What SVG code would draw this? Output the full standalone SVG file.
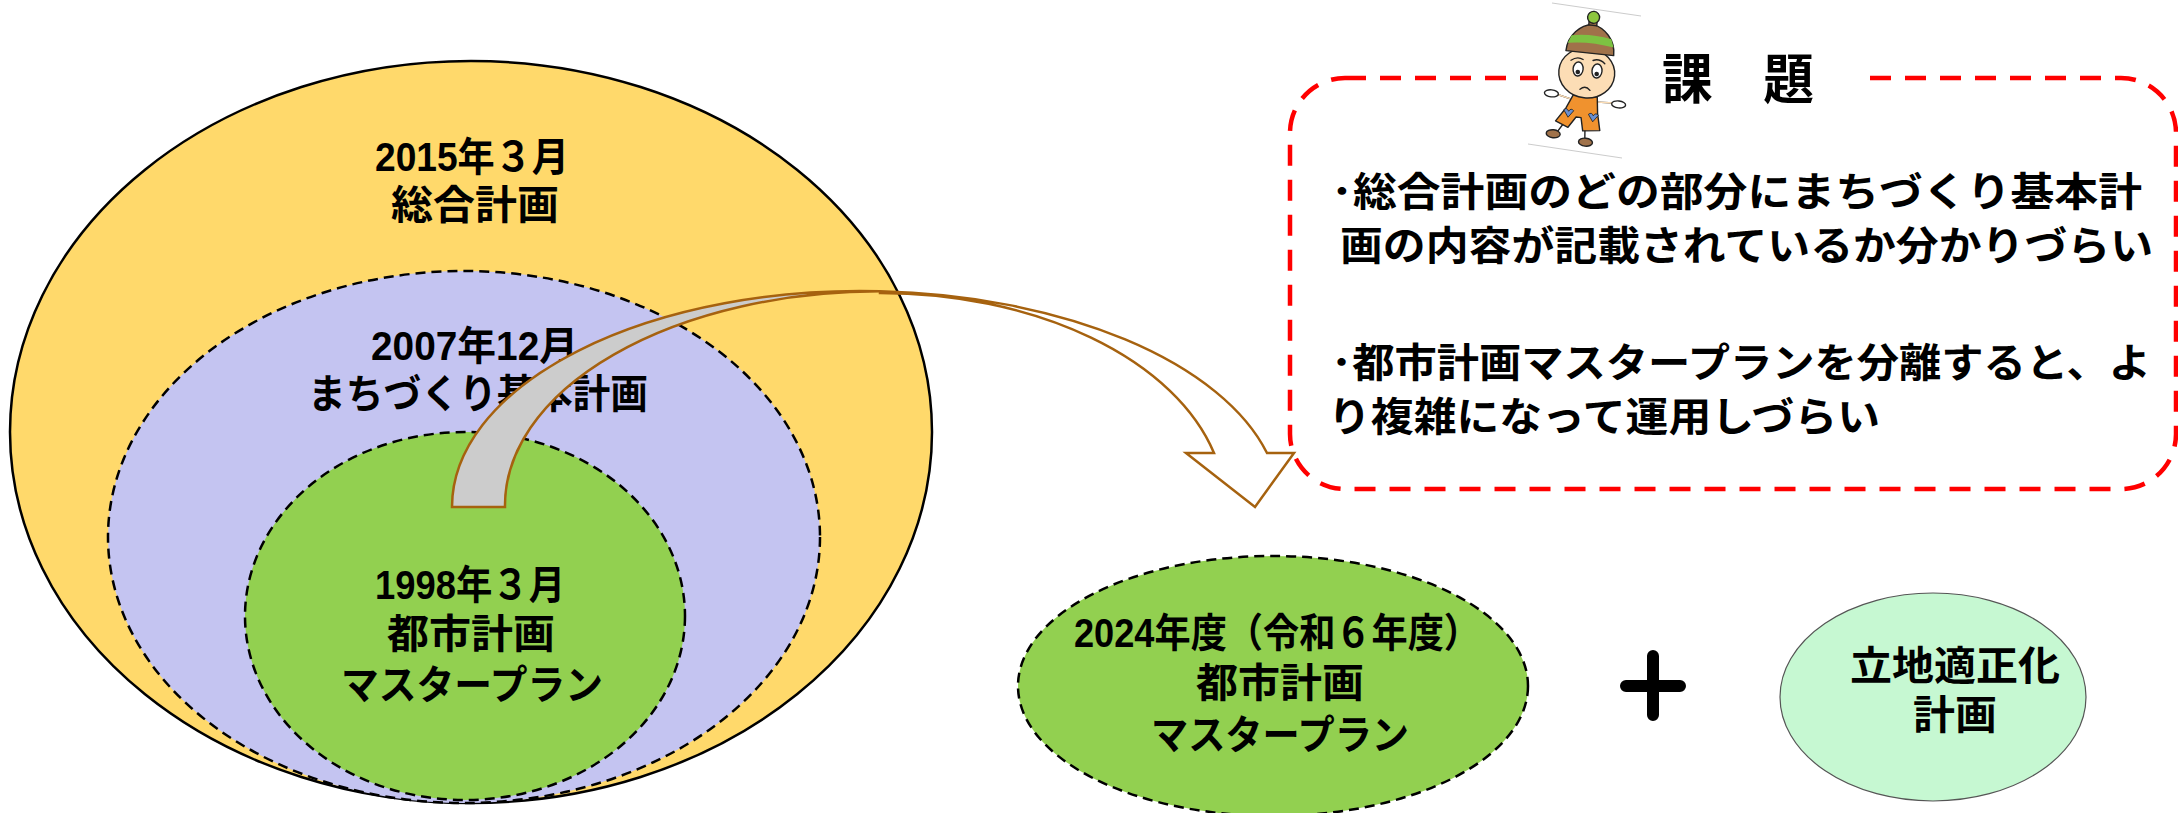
<svg xmlns="http://www.w3.org/2000/svg" width="2178" height="813" viewBox="0 0 2178 813">
  <style>
    .t { font-family: "Liberation Sans", "Noto Sans CJK JP", sans-serif; font-weight: 700; font-size: 40px; fill: #000; dominant-baseline: central; }
    .title { font-size: 54px; }
    .dash { stroke: #000; stroke-width: 2.5; stroke-dasharray: 10 6; }
    .arrow { stroke: #A6620F; stroke-width: 2.5; stroke-linejoin: miter; }
    .ink { stroke: #222; stroke-width: 1.4; stroke-linejoin: round; stroke-linecap: round; }
  </style>
  <rect width="2178" height="813" fill="#fff"/>

  <!-- nested plans -->
  <g id="plan-2015">
    <ellipse cx="471" cy="432" rx="461" ry="371" fill="#FFD96B" stroke="#000" stroke-width="2.5"/>
  </g>
  <g id="plan-2007">
    <ellipse cx="464" cy="537" rx="356" ry="266" fill="#C4C4F1" class="dash"/>
  </g>
  <g id="plan-1998">
    <ellipse cx="465" cy="616" rx="220" ry="184" fill="#92D050" class="dash"/>
  </g>
  <g id="plan-labels">
    <text class="t" x="375" y="157" textLength="194" lengthAdjust="spacingAndGlyphs">2015年３月</text>
    <text class="t" x="391" y="205" textLength="168" lengthAdjust="spacingAndGlyphs">総合計画</text>
    <text class="t" x="371" y="346" textLength="207" lengthAdjust="spacingAndGlyphs">2007年12月</text>
    <text class="t" x="308" y="394" textLength="340" lengthAdjust="spacingAndGlyphs">まちづくり基本計画</text>
    <text class="t" x="375" y="585" textLength="190" lengthAdjust="spacingAndGlyphs">1998年３月</text>
    <text class="t" x="387" y="634" textLength="168" lengthAdjust="spacingAndGlyphs">都市計画</text>
    <text class="t" x="341" y="685" textLength="262" lengthAdjust="spacingAndGlyphs">マスタープラン</text>
  </g>

  <!-- issues box -->
  <g id="issues">
    <rect x="1290" y="78" width="886" height="411" rx="55" ry="55" fill="none" stroke="#FF0000" stroke-width="4.5" stroke-dasharray="21 14"/>
    <rect x="1538" y="68" width="324" height="22" fill="#fff"/>
    <text class="t title" x="1662" y="80" textLength="152" lengthAdjust="spacingAndGlyphs">課　題</text>
    <text class="t" x="1331" y="192" textLength="811" lengthAdjust="spacingAndGlyphs">･総合計画のどの部分にまちづくり基本計</text>
    <text class="t" x="1340" y="246" textLength="813" lengthAdjust="spacingAndGlyphs">画の内容が記載されているか分かりづらい</text>
    <text class="t" x="1331" y="363" textLength="820" lengthAdjust="spacingAndGlyphs">･都市計画マスタープランを分離すると、よ</text>
    <text class="t" x="1328" y="417" textLength="552" lengthAdjust="spacingAndGlyphs">り複雑になって運用しづらい</text>
  </g>

  <!-- mascot -->
  <g id="mascot">
    <polygon points="1552,3 1641,16 1622,158 1528,144" fill="#fff"/>
    <line x1="1552" y1="3" x2="1641" y2="16" stroke="#ccc" stroke-width="1"/>
    <line x1="1528" y1="144" x2="1622" y2="158" stroke="#ccc" stroke-width="1"/>
    <g transform="rotate(6 1587 80)">
      <!-- legs and feet -->
      <path class="ink" d="M1568,126 L1562,136 M1590,128 L1591,139" fill="none" stroke-width="3"/>
      <ellipse class="ink" cx="1559" cy="137" rx="7" ry="4" fill="#A0724A"/>
      <ellipse class="ink" cx="1592" cy="142" rx="7" ry="4" fill="#A0724A"/>
      <!-- arms -->
      <path class="ink" d="M1575,101 L1557,97 M1599,101 L1617,100" fill="none" stroke-width="3"/>
      <path d="M1575,101 L1557,97 M1599,101 L1617,100" fill="none" stroke="#FCDDB5" stroke-width="1.4"/>
      <ellipse class="ink" cx="1553" cy="97" rx="7" ry="3.5" fill="#fff"/>
      <ellipse class="ink" cx="1621" cy="101" rx="7" ry="3.5" fill="#fff"/>
      <!-- overalls -->
      <path class="ink" d="M1575,96 L1599,96 L1601,112 L1605,129 L1588,131 L1585,118 L1580,118 L1573,129 L1560,124 L1569,110 Z" fill="#F0922E"/>
      <path d="M1567,112 q3,-3 5,1 q2,-4 5,-1 l-5,7 Z" fill="#6A8FD0" stroke="#222" stroke-width="0.8"/>
      <path d="M1592,114 q3,-3 5,1 q2,-4 5,-1 l-5,7 Z" fill="#6A8FD0" stroke="#222" stroke-width="0.8"/>
      <!-- face -->
      <ellipse class="ink" cx="1586" cy="73" rx="28" ry="25" fill="#FCDDB5" stroke-width="1.8"/>
      <ellipse class="ink" cx="1577" cy="70" rx="5" ry="7" fill="#fff"/>
      <ellipse class="ink" cx="1596" cy="70" rx="5" ry="7" fill="#fff"/>
      <circle cx="1577" cy="73" r="2.3" fill="#222"/>
      <circle cx="1596" cy="73" r="2.3" fill="#222"/>
      <path class="ink" d="M1569,62 Q1575,57 1581,60 M1591,60 Q1597,57 1603,62 M1581,90 Q1586,85 1591,90" fill="none"/>
      <!-- hat -->
      <path class="ink" d="M1563,53 C1563,37 1575,26 1587,24 C1599,26 1611,37 1611,53 Z" fill="#A0724A"/>
      <path d="M1567,37 Q1587,33 1607,37 L1610,45 Q1587,41 1564,45 Z" fill="#7DC242"/>
      <rect class="ink" x="1583" y="20" width="8" height="5" fill="#A0724A"/>
      <circle class="ink" cx="1587" cy="17" r="6" fill="#8DC63F"/>
    </g>
  </g>

  <!-- arrow from the 1998 plan to the new plan -->
  <g id="connectors">
    <path class="arrow" fill="#CCCCCC" d="M452,507 A408,216 0 0 1 880,291.3 A375,214 0 0 0 505,507 Z"/>
    <path class="arrow" fill="#fff" d="M880,291.3 A420,216 0 0 1 1267,453 L1294,453 L1255,507 L1186,453 L1214,453 A345,214 0 0 0 880,293 Z"/>
  </g>

  <!-- new plan -->
  <g id="plan-2024">
    <ellipse cx="1273" cy="686" rx="255" ry="130" fill="#92D050" class="dash"/>
    <text class="t" x="1074" y="633" textLength="406" lengthAdjust="spacingAndGlyphs">2024年度（令和６年度）</text>
    <text class="t" x="1196" y="683" textLength="168" lengthAdjust="spacingAndGlyphs">都市計画</text>
    <text class="t" x="1151" y="735" textLength="258" lengthAdjust="spacingAndGlyphs">マスタープラン</text>
  </g>

  <g id="plus">
    <path d="M1653,656 V715 M1626,686 H1680" stroke="#000" stroke-width="12" stroke-linecap="round"/>
  </g>

  <g id="location-plan">
    <ellipse cx="1933" cy="697" rx="153" ry="104" fill="#C6F8D2" stroke="#555" stroke-width="1.2"/>
    <text class="t" x="1850" y="666" textLength="210" lengthAdjust="spacingAndGlyphs">立地適正化</text>
    <text class="t" x="1913" y="715" textLength="84" lengthAdjust="spacingAndGlyphs">計画</text>
  </g>
</svg>
